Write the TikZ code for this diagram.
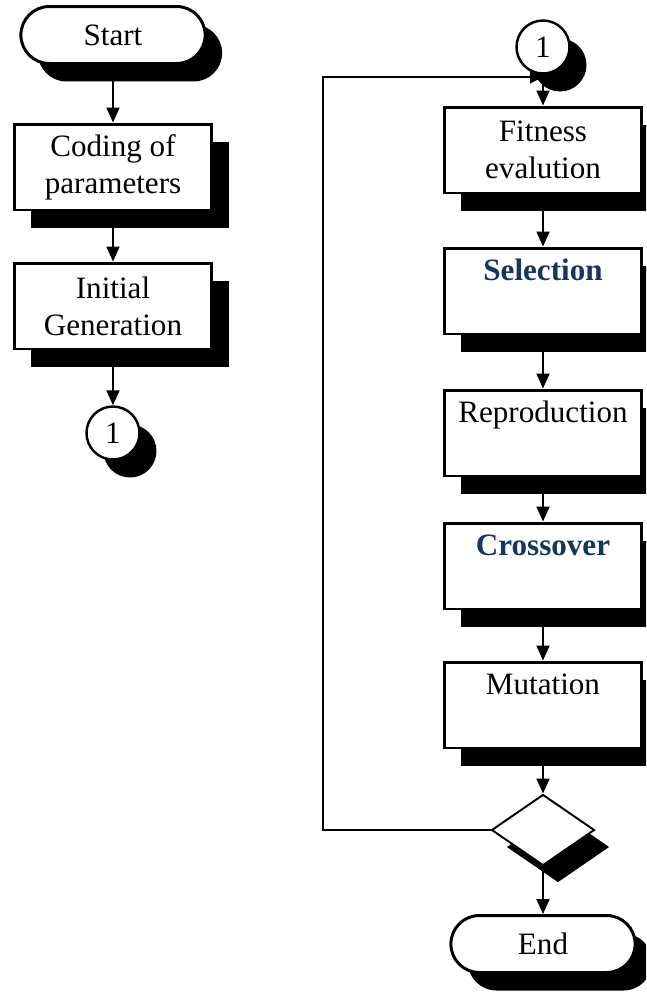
\documentclass[tikz,border=0pt]{standalone}
\usepackage{fontspec}
\setmainfont{Liberation Serif}
\usetikzlibrary{arrows.meta,shapes.geometric,shapes.misc,shadows}
\definecolor{selblue}{RGB}{23,54,93}

\begin{document}
\begin{tikzpicture}[x=0.02cm, y=-0.02cm,
    font=\fontsize{17.7}{21}\selectfont,
    solid shadow/.style={drop shadow={shadow xshift=0.34cm, shadow yshift=-0.36cm, fill=black, opacity=1}},
    terminal/.style={rounded rectangle, draw, line width=1.7pt, fill=white, minimum width=3.92cm, minimum height=1.14cm, solid shadow},
    procbox/.style={rectangle, draw, line width=1.7pt, fill=white, minimum width=3.96cm, minimum height=1.72cm, align=center, inner sep=2pt, solid shadow},
    onebox/.style={procbox, text height=0.64cm, text depth=1.08cm, inner ysep=0pt},
    connector/.style={circle, draw, line width=1.4pt, fill=white, minimum size=1.06cm, inner sep=0pt, solid shadow},
    decision/.style={diamond, draw, line width=1.1pt, fill=white, minimum width=2.06cm, minimum height=1.42cm, inner sep=0pt,
      drop shadow={shadow xshift=0.3cm, shadow yshift=-0.34cm, fill=black, opacity=1}},
    flow/.style={line width=1.1pt, -{Triangle[length=0.3cm, width=0.26cm]}},
    loop/.style={line width=0.6pt, -{Triangle[length=0.26cm, width=0.26cm]}},
    bluetext/.style={font=\fontsize{17.7}{21}\selectfont\bfseries, text=selblue}]
  \clip (0,0) rectangle (646,994);
  \node[terminal] (start) at (113,35) {Start};
  \node[procbox] (coding) at (113,167) {Coding of\\parameters};
  \node[procbox] (init) at (113,306) {Initial\\Generation};
  \node[connector] (conl) at (113,433) {1};
  \node[connector] (conr) at (543,47) {1};
  \node[procbox] (fit) at (543,150) {Fitness\\evalution};
  \node[onebox, bluetext] (sel) at (543,291) {Selection};
  \node[onebox] (rep) at (543,433) {Reproduction};
  \node[onebox, bluetext] (cro) at (543,566) {Crossover};
  \node[onebox] (mut) at (543,705) {Mutation};
  \node[decision] (dec) at (543,830) {};
  \node[terminal] (end) at (543,944) {End};
  \coordinate (loopcorner) at (323,77);
  \coordinate (loopjoin) at (543,77);
  \draw[flow] (start) -- (coding);
  \draw[flow] (coding) -- (init);
  \draw[flow] (init) -- (conl);
  \draw[flow] (conr) -- (fit);
  \draw[flow] (fit) -- (sel);
  \draw[flow] (sel) -- (rep);
  \draw[flow] (rep) -- (cro);
  \draw[flow] (cro) -- (mut);
  \draw[flow] (mut) -- (dec);
  \draw[flow] (dec) -- (end);
  \draw[loop] (dec.west) -| (loopcorner) -- (loopjoin);
\end{tikzpicture}
\end{document}
